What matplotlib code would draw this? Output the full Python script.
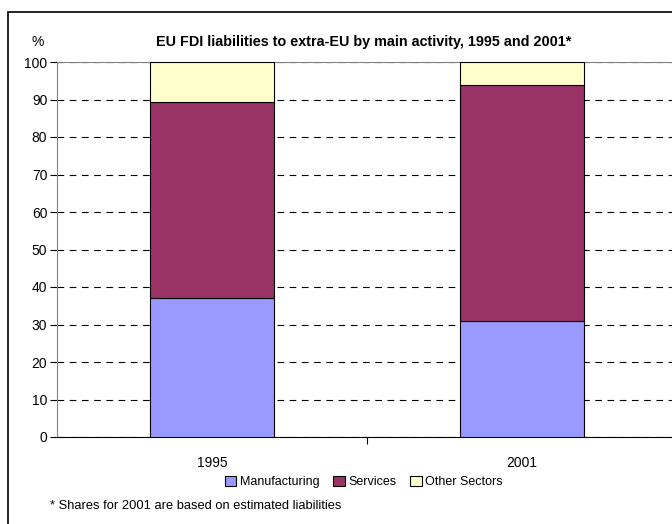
import matplotlib
matplotlib.use('Agg')
import matplotlib.pyplot as plt
from matplotlib.patches import Rectangle

years = ['1995', '2001']
manufacturing = [37.0, 31.0]
services = [52.3, 63.0]
other = [10.7, 6.0]
series_names = ['Manufacturing', 'Services', 'Other Sectors']
colors = ['#9999FF', '#993366', '#FFFFCC']

plt.rcParams['font.family'] = ['Liberation Sans', 'DejaVu Sans']

fig = plt.figure(figsize=(6.72, 5.24), dpi=100)
ax = fig.add_axes([57 / 672, 1 - 437 / 524, 620 / 672, 375 / 524])

x = range(len(years))
bottoms = [0, 0]
for vals, name, c in zip([manufacturing, services, other], series_names, colors):
	ax.bar(x, vals, width=0.4, bottom=bottoms, color=c, edgecolor='black',
		linewidth=0.8, label=name, zorder=3)
	bottoms = [b + v for b, v in zip(bottoms, vals)]

ax.set_xlim(-0.5, 1.5)
ax.set_ylim(0, 100)
ax.set_yticks(range(0, 101, 10))
ax.yaxis.grid(True, color='black', linestyle=(0, (6, 5)), linewidth=0.8, zorder=0)
ax.set_xticks([0, 1])
ax.set_xticklabels(years)
ax.set_xticks([0.5], minor=True)
ax.tick_params(axis='x', which='major', length=0, pad=14, labelsize=10)
ax.tick_params(axis='x', which='minor', length=5, direction='out', width=0.8)
ax.tick_params(axis='y', length=5, direction='out', width=0.8, labelsize=10, pad=2)

for s in ['left', 'top']:
	ax.spines[s].set_color('#808080')
ax.spines['right'].set_visible(False)
ax.spines['bottom'].set_color('black')

fig.text(32 / 672, 1 - 42 / 524, '%', fontsize=10, ha='left', va='center')
fig.text(364 / 672, 1 - 42 / 524, 'EU FDI liabilities to extra-EU by main activity, 1995 and 2001*',
	fontsize=10.4, fontweight='bold', ha='center', va='center')

leg = fig.legend(loc='center', bbox_to_anchor=(364 / 672, 1 - 482 / 524), ncol=3,
	frameon=False, fontsize=9, handlelength=0.9, handleheight=0.9,
	handletextpad=0.3, columnspacing=1.1)

fig.text(50 / 672, 1 - 506 / 524, '* Shares for 2001 are based on estimated liabilities',
	fontsize=9.3, ha='left', va='center')

fig.patches.append(Rectangle((8 / 672, -0.2), 1.0, 1 - 12 / 524 + 0.2,
	transform=fig.transFigure, fill=False, edgecolor='black', linewidth=1.2))

fig.savefig('out.png', dpi=100)
